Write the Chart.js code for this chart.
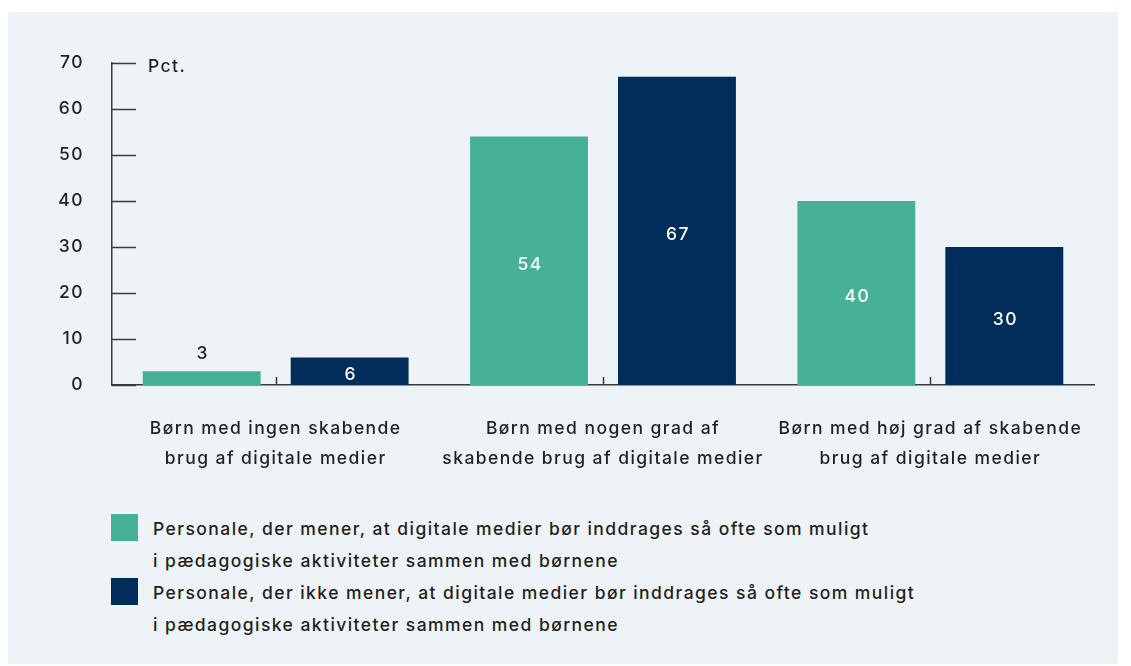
<!DOCTYPE html>
<html>
<head>
<meta charset="utf-8">
<script src="https://cdn.jsdelivr.net/npm/chart.js@4/dist/chart.umd.min.js"></script>
<style>
  body { margin: 0; background: #fff; font-family: Inter, sans-serif; }
  #panel { position: absolute; left: 8px; top: 12px; width: 1110px; height: 652px; background: #eef3f8; }
  #chartBox { position: absolute; left: 0; top: 0; width: 1110px; height: 480px; }
  .leg { position: absolute; left: 103px; width: 27px; height: 27px; }
  .legText { position: absolute; left: 145px; font-size: 17.5px; font-weight: 500; letter-spacing: 1.44px; line-height: 32px; color: #231f20; white-space: nowrap; }
</style>
</head>
<body>
<div id="panel">
  <div id="chartBox"><canvas id="barChart"></canvas></div>
  <div id="legend"></div>
</div>
<script>
const categories = [
  ["Børn med ingen skabende", "brug af digitale medier"],
  ["Børn med nogen grad af", "skabende brug af digitale medier"],
  ["Børn med høj grad af skabende", "brug af digitale medier"]
];
const seriesNames = [
  ["Personale, der mener, at digitale medier bør inddrages så ofte som muligt", "i pædagogiske aktiviteter sammen med børnene"],
  ["Personale, der ikke mener, at digitale medier bør inddrages så ofte som muligt", "i pædagogiske aktiviteter sammen med børnene"]
];
const meneValues = [3, 54, 40];
const ikkeMeneValues = [6, 67, 30];
const yTicks = [0, 10, 20, 30, 40, 50, 60, 70];
const unitLabel = "Pct.";

const green = "#46b197";
const navy = "#002d59";
const textColor = "#231f20";
const axisColor = "#3a3a3a";
const fontFamily = "Inter, sans-serif";
const fontSize = 17.5;
const spacing = "1.44px";

// canvas resets its state on resize, so set the spacing again before layout and draw
const letterSpace = {
  id: "letterSpace",
  beforeLayout(chart) { chart.ctx.letterSpacing = spacing; },
  beforeDraw(chart) { chart.ctx.letterSpacing = spacing; }
};

// ticks pointing into the plot, category marks, value labels, unit
const extras = {
  id: "extras",
  afterDatasetsDraw(chart) {
    const ctx = chart.ctx;
    const y = chart.scales.y;
    const x = chart.scales.x;
    const area = chart.chartArea;
    ctx.save();
    ctx.letterSpacing = spacing;
    ctx.strokeStyle = axisColor;
    ctx.lineWidth = 1.5;
    yTicks.forEach(v => {
      const py = Math.round(y.getPixelForValue(v)) + 0.5;
      ctx.beginPath();
      ctx.moveTo(area.left, py);
      ctx.lineTo(area.left + 24, py);
      ctx.stroke();
    });
    categories.forEach((c, i) => {
      const px = Math.round(x.getPixelForValue(i)) + 0.5;
      ctx.beginPath();
      ctx.moveTo(px, area.bottom);
      ctx.lineTo(px, area.bottom - 8);
      ctx.stroke();
    });
    ctx.font = "500 " + fontSize + "px " + fontFamily;
    ctx.textAlign = "center";
    ctx.textBaseline = "middle";
    chart.data.datasets.forEach((ds, di) => {
      chart.getDatasetMeta(di).data.forEach((bar, i) => {
        const h = bar.base - bar.y;
        if (h < 20) {
          ctx.fillStyle = textColor;
          ctx.fillText(ds.data[i], bar.x + 1, bar.y - 17);
        } else {
          ctx.fillStyle = "#ffffff";
          ctx.fillText(ds.data[i], bar.x + 1, (bar.y + bar.base) / 2 + 4);
        }
      });
    });
    ctx.fillStyle = textColor;
    ctx.textAlign = "left";
    ctx.fillText(unitLabel, area.left + 36, y.getPixelForValue(70) + 4);
    ctx.restore();
  }
};

const chart = new Chart(document.getElementById("barChart"), {
  type: "bar",
  data: {
    labels: categories,
    datasets: [
      { label: seriesNames[0].join(" "), data: meneValues, backgroundColor: green },
      { label: seriesNames[1].join(" "), data: ikkeMeneValues, backgroundColor: navy }
    ]
  },
  options: {
    responsive: true,
    maintainAspectRatio: false,
    animation: false,
    layout: { padding: { top: 51, right: 24, left: 0, bottom: 0 } },
    categoryPercentage: 0.904,
    barPercentage: 0.797,
    plugins: { legend: { display: false }, tooltip: { enabled: false } },
    scales: {
      x: {
        grid: { display: false, drawTicks: false },
        border: { display: true, color: axisColor, width: 1.5 },
        ticks: { color: textColor, font: { family: fontFamily, size: fontSize, weight: 500, lineHeight: 1.71 }, padding: 29, maxRotation: 0 },
        afterFit(scale) { scale.height = 107; }
      },
      y: {
        min: 0,
        max: 70,
        grid: { display: false, drawTicks: false },
        border: { display: true, color: axisColor, width: 1.5 },
        ticks: { stepSize: 10, color: textColor, font: { family: fontFamily, size: fontSize, weight: 500 }, padding: 28 },
        afterFit(scale) { scale.width = 104; }
      }
    }
  },
  plugins: [letterSpace, extras]
});

// legend built from the datasets
const legend = document.getElementById("legend");
chart.data.datasets.forEach((ds, i) => {
  const top = 502 + i * 64;
  const sq = document.createElement("div");
  sq.className = "leg";
  sq.style.top = top + "px";
  sq.style.background = ds.backgroundColor;
  legend.appendChild(sq);
  const t = document.createElement("div");
  t.className = "legText";
  t.style.top = (top - 1) + "px";
  t.innerHTML = seriesNames[i].join("<br>");
  legend.appendChild(t);
});
</script>
</body>
</html>
